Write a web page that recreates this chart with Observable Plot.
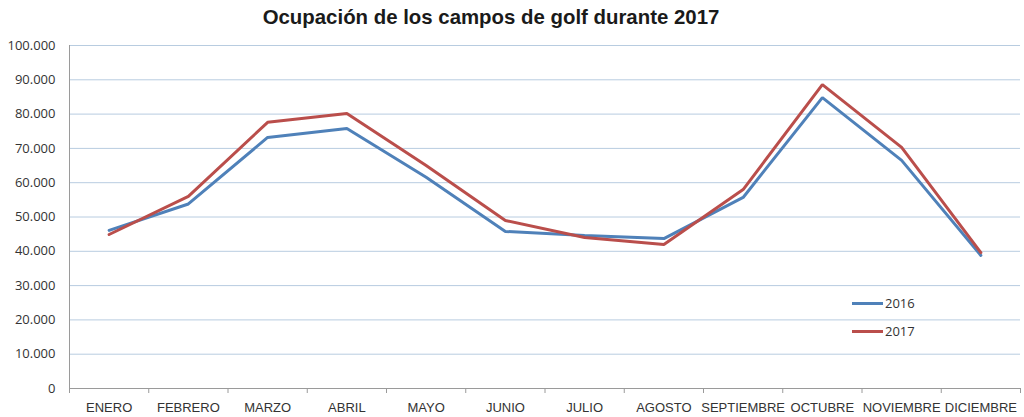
<!DOCTYPE html>
<html>
<head>
<meta charset="utf-8">
<script src="https://cdn.jsdelivr.net/npm/d3@7"></script>
<script src="https://cdn.jsdelivr.net/npm/@observablehq/plot@0.6"></script>
<style>
  html, body { margin: 0; padding: 0; background: #fff; }
  #wrap { position: relative; width: 1024px; height: 417px; }
  #title { height: 34px; line-height: 34px; text-align: center; font-family: "Liberation Sans", Arial, sans-serif; font-weight: bold; font-size: 20.4px; color: #1a1a1a; width: 982px; }
  #legend { position: absolute; left: 852px; top: 289px; font-family: "Open Sans", sans-serif; font-size: 13px; color: #333; }
  #legend div { height: 28px; display: flex; align-items: center; }
  #legend span.sw { display: inline-block; width: 31px; height: 3px; margin-right: 2px; }
</style>
</head>
<body>
<div id="wrap">
  <div id="title">Ocupación de los campos de golf durante 2017</div>
  <div id="chart"></div>
  <div id="legend"></div>
</div>
<script>
const months = ["ENERO","FEBRERO","MARZO","ABRIL","MAYO","JUNIO","JULIO","AGOSTO","SEPTIEMBRE","OCTUBRE","NOVIEMBRE","DICIEMBRE"];
const values2016 = [46100, 53800, 73200, 75800, 61600, 45800, 44600, 43700, 55700, 84800, 66500, 38800];
const values2017 = [44900, 56000, 77600, 80200, 65000, 49000, 44000, 42000, 58000, 88600, 70300, 39600];
const seriesNames = ["2016", "2017"];
const seriesColors = ["#4F81B9", "#BA4E4B"];
const yTicks = [0, 10000, 20000, 30000, 40000, 50000, 60000, 70000, 80000, 90000, 100000];

const data = [];
[values2016, values2017].forEach((vals, s) => {
  vals.forEach((v, i) => data.push({ series: seriesNames[s], i, value: v }));
});
const idx = months.map((m, i) => i);
const bounds = d3.range(months.length + 1).map(i => i - 0.5);
const fmt = d => d === 0 ? "0" : d3.format(",")(d).replace(/,/g, ".");

const chart = Plot.plot({
  width: 1024,
  height: 383,
  marginTop: 11,
  marginBottom: 29,
  marginLeft: 69,
  marginRight: 4,
  style: { fontFamily: "Open Sans, sans-serif", fontSize: "13px", color: "#333", background: "#fff" },
  x: { type: "linear", domain: [-0.5, months.length - 0.5] },
  y: { domain: [0, 100000] },
  color: { domain: seriesNames, range: seriesColors },
  marks: [
    Plot.gridY(yTicks.filter(d => d > 0), { stroke: "#B8CCE0", strokeOpacity: 1, strokeWidth: 1 }),
    Plot.ruleX([-0.5], { stroke: "#9A9A9A" }),
    Plot.ruleY([0], { stroke: "#9A9A9A" }),
    Plot.axisY({ ticks: yTicks, tickFormat: fmt, tickSize: 0, tickPadding: 14, label: null, fontSize: 13 }),
    Plot.axisX({ ticks: bounds, tickFormat: () => "", tickSize: 5, stroke: "#9A9A9A", label: null }),
    Plot.axisX({ ticks: idx, tickFormat: i => months[i], tickSize: 0, tickPadding: 14, label: null, fontFamily: "Liberation Sans Narrow, sans-serif", fontSize: 13 }),
    Plot.line(data, { x: "i", y: "value", z: "series", stroke: "series", strokeWidth: 3, strokeLinejoin: "miter" })
  ]
});
document.getElementById("chart").appendChild(chart);

const legend = document.getElementById("legend");
seriesNames.forEach((n, s) => {
  const row = document.createElement("div");
  row.innerHTML = `<span class="sw" style="background:${seriesColors[s]}"></span>${n}`;
  legend.appendChild(row);
});
</script>
</body>
</html>
